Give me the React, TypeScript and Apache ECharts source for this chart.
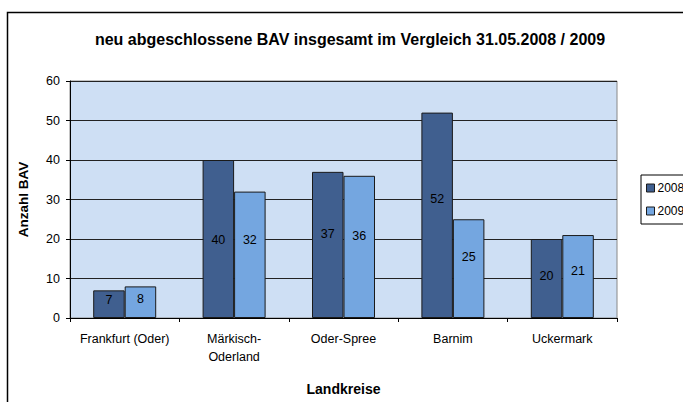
import React, { useEffect, useRef } from "react";
import * as echarts from "echarts";

const categories = ["Frankfurt (Oder)", "Märkisch-\nOderland", "Oder-Spree", "Barnim", "Uckermark"];
const series2008 = [7, 40, 37, 52, 20];
const series2009 = [8, 32, 36, 25, 21];
const seriesNames = ["2008", "2009"];
const yTicks = { min: 0, max: 60, interval: 10 };

const FONT = "'Liberation Sans', Arial, sans-serif";

// vertical nudges of the value labels, as placed in the original
const labelNudge2008 = [-4, 1, -11, -16, -3];
const labelNudge2009 = [-3, -15, -11, -12, -6];

export default function App() {
  const ref = useRef<HTMLDivElement>(null);
  useEffect(() => {
    document.body.style.margin = "0";
    const chart = echarts.init(ref.current!, null, { renderer: "svg" });
    const labelCfg = {
      show: true,
      position: "inside",
      color: "#000",
      fontSize: 12.5,
      fontFamily: FONT,
    };
    const withNudge = (vals: number[], nudges: number[]) =>
      vals.map((v, i) => ({ value: v, label: { offset: [0, nudges[i]] } }));
    chart.setOption({
      animation: false,
      backgroundColor: "#fff",
      textStyle: { fontFamily: FONT },
      title: {
        text: "neu abgeschlossene BAV insgesamt im Vergleich 31.05.2008 / 2009",
        left: 345,
        textAlign: "center",
        top: 26,
        textStyle: { fontSize: 16, fontWeight: "bold", color: "#000", fontFamily: FONT },
      },
      graphic: [
        {
          type: "rect",
          shape: { x: 7.5, y: 12.5, width: 800, height: 500 },
          style: { fill: "none", stroke: "#000", lineWidth: 1.5 },
          silent: true,
        },
      ],
      legend: {
        orient: "vertical",
        left: 641,
        top: 175,
        data: seriesNames,
        itemWidth: 8,
        itemHeight: 8,
        itemGap: 11,
        padding: [7, 20, 7, 5],
        borderColor: "#000",
        borderWidth: 1,
        icon: "rect",
        itemStyle: { borderColor: "#1a1a1a", borderWidth: 1 },
        textStyle: { fontSize: 12, color: "#000", fontFamily: FONT, padding: [0, 0, 0, -2] },
      },
      grid: {
        left: 70,
        top: 81,
        width: 547,
        height: 237,
        show: true,
        backgroundColor: "#CEDFF4",
        borderColor: "#888",
        borderWidth: 1,
      },
      xAxis: {
        type: "category",
        data: categories,
        name: "Landkreise",
        nameLocation: "middle",
        nameGap: 64,
        nameTextStyle: { fontSize: 14, fontWeight: "bold", color: "#000", fontFamily: FONT },
        axisLine: { lineStyle: { color: "#000", width: 1 } },
        axisTick: { show: true, length: 4, lineStyle: { color: "#000" } },
        axisLabel: { color: "#000", fontSize: 12.5, margin: 12, lineHeight: 18, fontFamily: FONT, interval: 0 },
      },
      yAxis: {
        type: "value",
        min: yTicks.min,
        max: yTicks.max,
        interval: yTicks.interval,
        name: "Anzahl BAV",
        nameLocation: "middle",
        nameGap: 40,
        nameRotate: 90,
        nameTextStyle: { fontSize: 13.5, fontWeight: "bold", color: "#000", fontFamily: FONT },
        axisLine: { show: true, lineStyle: { color: "#000", width: 1 } },
        axisTick: { show: true, length: 4, lineStyle: { color: "#000" } },
        axisLabel: { color: "#000", fontSize: 12.5, margin: 10, fontFamily: FONT },
        splitLine: { show: true, lineStyle: { color: "#222", width: 1 } },
      },
      series: [
        {
          name: seriesNames[0],
          type: "bar",
          data: withNudge(series2008, labelNudge2008),
          barWidth: 31.5,
          barGap: "0%",
          itemStyle: { color: "#405F8F", borderColor: "#1a1a1a", borderWidth: 1 },
          label: labelCfg,
        },
        {
          name: seriesNames[1],
          type: "bar",
          data: withNudge(series2009, labelNudge2009),
          barWidth: 31.5,
          itemStyle: { color: "#74A6E0", borderColor: "#1a1a1a", borderWidth: 1 },
          label: labelCfg,
        },
      ],
    });
    return () => chart.dispose();
  }, []);
  return <div ref={ref} style={{ width: 683, height: 402 }} />;
}
